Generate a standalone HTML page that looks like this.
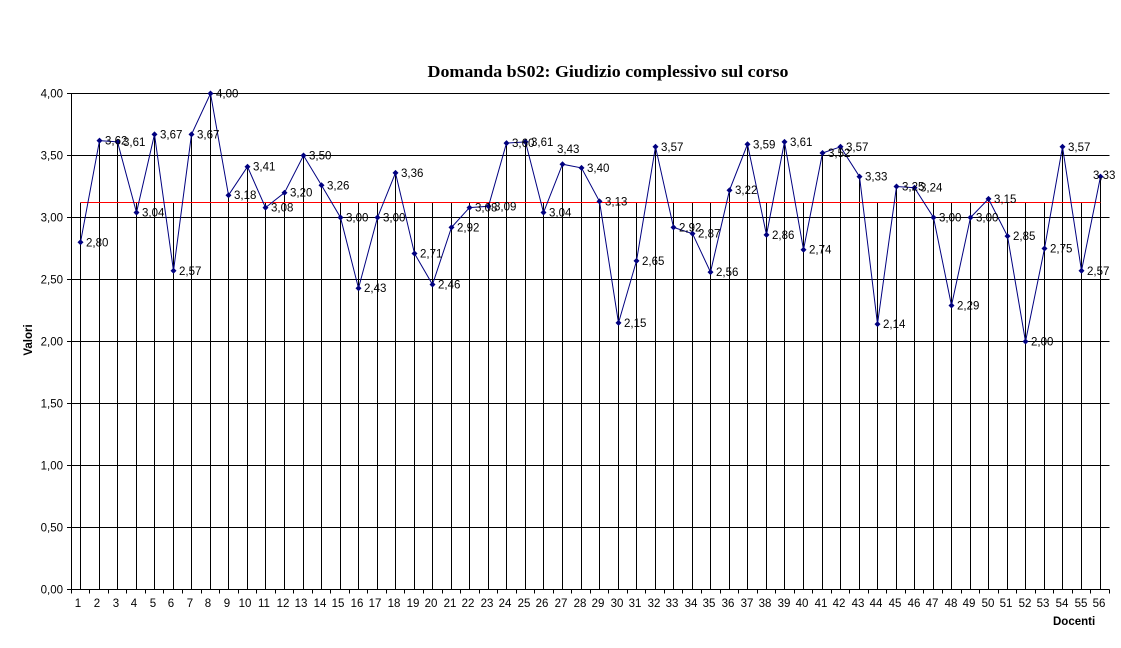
<!DOCTYPE html>
<html><head><meta charset="utf-8"><style>
html,body{margin:0;padding:0;background:#fff;}
svg{display:block;}
text{font-family:"Liberation Sans",Arial,sans-serif;font-size:11.5px;fill:#000;}
</style></head><body>
<svg width="1121" height="648" viewBox="0 0 1121 648" xmlns="http://www.w3.org/2000/svg">
<defs>
<marker id="d" viewBox="-4 -4 8 8" markerWidth="8" markerHeight="8" refX="0" refY="0" markerUnits="userSpaceOnUse">
<path d="M0,-3 L3,0 L0,3 L-3,0 Z" fill="#000080"/>
</marker>
</defs>
<rect width="1121" height="648" fill="#fff"/>
<text x="608" y="77" text-anchor="middle" textLength="361" lengthAdjust="spacingAndGlyphs" style="font-family:'Liberation Serif','Times New Roman',serif;font-size:17px;font-weight:bold;">Domanda bS02: Giudizio complessivo sul corso</text>
<!-- horizontal gridlines -->
<g stroke="#000" stroke-width="1" fill="none" shape-rendering="crispEdges">
<path d="M67 93.5H1109.5M67 155.5H1109.5M67 217.5H1109.5M67 279.5H1109.5M67 341.5H1109.5M67 403.5H1109.5M67 465.5H1109.5M67 527.5H1109.5M67 589.5H1109.5"/>
<path d="M71.5 93.5V589.5"/>
<!-- x ticks -->
<path d="M71.5 589.5v4M89.5 589.5v4M108.5 589.5v4M126.5 589.5v4M145.5 589.5v4M163.5 589.5v4M182.5 589.5v4M201.5 589.5v4M219.5 589.5v4M238.5 589.5v4M256.5 589.5v4M275.5 589.5v4M293.5 589.5v4M312.5 589.5v4M330.5 589.5v4M349.5 589.5v4M367.5 589.5v4M386.5 589.5v4M404.5 589.5v4M423.5 589.5v4M442.5 589.5v4M460.5 589.5v4M479.5 589.5v4M497.5 589.5v4M516.5 589.5v4M534.5 589.5v4M553.5 589.5v4M571.5 589.5v4M590.5 589.5v4M608.5 589.5v4M627.5 589.5v4M645.5 589.5v4M664.5 589.5v4M682.5 589.5v4M701.5 589.5v4M720.5 589.5v4M738.5 589.5v4M757.5 589.5v4M775.5 589.5v4M794.5 589.5v4M812.5 589.5v4M831.5 589.5v4M849.5 589.5v4M868.5 589.5v4M886.5 589.5v4M905.5 589.5v4M923.5 589.5v4M942.5 589.5v4M961.5 589.5v4M979.5 589.5v4M998.5 589.5v4M1016.5 589.5v4M1035.5 589.5v4M1053.5 589.5v4M1072.5 589.5v4M1090.5 589.5v4M1109.5 589.5v4"/>
<!-- drop lines -->
<path d="M80.5 202.5V589.5M99.5 140.6V589.5M117.5 141.9V589.5M136.5 202.5V589.5M154.5 134.4V589.5M173.5 202.5V589.5M191.5 134.4V589.5M210.5 93.5V589.5M228.5 195.2V589.5M247.5 166.7V589.5M265.5 202.5V589.5M284.5 192.7V589.5M303.5 155.5V589.5M321.5 185.3V589.5M340.5 202.5V589.5M358.5 202.5V589.5M377.5 202.5V589.5M395.5 172.9V589.5M414.5 202.5V589.5M432.5 202.5V589.5M451.5 202.5V589.5M469.5 202.5V589.5M488.5 202.5V589.5M506.5 143.1V589.5M525.5 141.9V589.5M543.5 202.5V589.5M562.5 164.2V589.5M581.5 167.9V589.5M599.5 201.4V589.5M618.5 202.5V589.5M636.5 202.5V589.5M655.5 146.8V589.5M673.5 202.5V589.5M692.5 202.5V589.5M710.5 202.5V589.5M729.5 190.2V589.5M747.5 144.3V589.5M766.5 202.5V589.5M784.5 141.9V589.5M803.5 202.5V589.5M822.5 153.0V589.5M840.5 146.8V589.5M859.5 176.6V589.5M877.5 202.5V589.5M896.5 186.5V589.5M914.5 187.7V589.5M933.5 202.5V589.5M951.5 202.5V589.5M970.5 202.5V589.5M988.5 198.9V589.5M1007.5 202.5V589.5M1025.5 202.5V589.5M1044.5 202.5V589.5M1062.5 146.8V589.5M1081.5 202.5V589.5M1100.5 176.6V589.5"/>
</g>
<!-- average line -->
<path d="M80.5 202.5H1100.5" stroke="#ff0000" stroke-width="1" shape-rendering="crispEdges"/>
<!-- series -->
<polyline fill="none" stroke="#000080" stroke-width="1" marker-start="url(#d)" marker-mid="url(#d)" marker-end="url(#d)" points="80.5,242.3 99.5,140.6 117.5,141.9 136.5,212.5 154.5,134.4 173.5,270.8 191.5,134.4 210.5,93.5 228.5,195.2 247.5,166.7 265.5,207.6 284.5,192.7 303.5,155.5 321.5,185.3 340.5,217.5 358.5,288.2 377.5,217.5 395.5,172.9 414.5,253.5 432.5,284.5 451.5,227.4 469.5,207.6 488.5,206.3 506.5,143.1 525.5,141.9 543.5,212.5 562.5,164.2 581.5,167.9 599.5,201.4 618.5,322.9 636.5,260.9 655.5,146.8 673.5,227.4 692.5,233.6 710.5,272.1 729.5,190.2 747.5,144.3 766.5,234.9 784.5,141.9 803.5,249.7 822.5,153.0 840.5,146.8 859.5,176.6 877.5,324.1 896.5,186.5 914.5,187.7 933.5,217.5 951.5,305.5 970.5,217.5 988.5,198.9 1007.5,236.1 1025.5,341.5 1044.5,248.5 1062.5,146.8 1081.5,270.8 1100.5,176.6"/>
<!-- data labels -->
<g>
<text x="86" y="246.3">2,80</text>
<text x="105" y="144.6">3,62</text>
<text x="123" y="145.9">3,61</text>
<text x="142" y="216.5">3,04</text>
<text x="160" y="138.4">3,67</text>
<text x="179" y="274.8">2,57</text>
<text x="197" y="138.4">3,67</text>
<text x="216" y="97.5">4,00</text>
<text x="234" y="199.2">3,18</text>
<text x="253" y="170.7">3,41</text>
<text x="271" y="211.6">3,08</text>
<text x="290" y="196.7">3,20</text>
<text x="309" y="159.5">3,50</text>
<text x="327" y="189.3">3,26</text>
<text x="346" y="221.5">3,00</text>
<text x="364" y="292.2">2,43</text>
<text x="383" y="221.5">3,00</text>
<text x="401" y="176.9">3,36</text>
<text x="420" y="257.5">2,71</text>
<text x="438" y="288.5">2,46</text>
<text x="457" y="231.4">2,92</text>
<text x="475" y="211.6">3,08</text>
<text x="494" y="210.3">3,09</text>
<text x="512" y="147.1">3,60</text>
<text x="531" y="145.9">3,61</text>
<text x="549" y="216.5">3,04</text>
<text x="557" y="153">3,43</text>
<text x="587" y="171.9">3,40</text>
<text x="605" y="205.4">3,13</text>
<text x="624" y="326.9">2,15</text>
<text x="642" y="264.9">2,65</text>
<text x="661" y="150.8">3,57</text>
<text x="679" y="231.4">2,92</text>
<text x="698" y="237.6">2,87</text>
<text x="716" y="276.1">2,56</text>
<text x="735" y="194.2">3,22</text>
<text x="753" y="148.3">3,59</text>
<text x="772" y="238.9">2,86</text>
<text x="790" y="145.9">3,61</text>
<text x="809" y="253.7">2,74</text>
<text x="828" y="157.0">3,52</text>
<text x="846" y="150.8">3,57</text>
<text x="865" y="180.6">3,33</text>
<text x="883" y="328.1">2,14</text>
<text x="902" y="190.5">3,25</text>
<text x="920" y="191.7">3,24</text>
<text x="939" y="221.5">3,00</text>
<text x="957" y="309.5">2,29</text>
<text x="976" y="221.5">3,00</text>
<text x="994" y="202.9">3,15</text>
<text x="1013" y="240.1">2,85</text>
<text x="1031" y="345.5">2,00</text>
<text x="1050" y="252.5">2,75</text>
<text x="1068" y="150.8">3,57</text>
<text x="1087" y="274.8">2,57</text>
<text x="1093" y="179">3,33</text>
</g>
<!-- y axis labels -->
<g text-anchor="end">
<text x="63" y="97.5">4,00</text>
<text x="63" y="159.5">3,50</text>
<text x="63" y="221.5">3,00</text>
<text x="63" y="283.5">2,50</text>
<text x="63" y="345.5">2,00</text>
<text x="63" y="407.5">1,50</text>
<text x="63" y="469.5">1,00</text>
<text x="63" y="531.5">0,50</text>
<text x="63" y="593.5">0,00</text>
</g>
<!-- x axis labels -->
<g text-anchor="middle">
<text x="78" y="607">1</text><text x="97" y="607">2</text><text x="116" y="607">3</text><text x="134" y="607">4</text><text x="153" y="607">5</text><text x="171" y="607">6</text><text x="190" y="607">7</text><text x="208" y="607">8</text><text x="227" y="607">9</text><text x="245" y="607">10</text><text x="264" y="607">11</text><text x="283" y="607">12</text><text x="301" y="607">13</text><text x="320" y="607">14</text><text x="338" y="607">15</text><text x="357" y="607">16</text><text x="375" y="607">17</text><text x="394" y="607">18</text><text x="413" y="607">19</text><text x="431" y="607">20</text><text x="450" y="607">21</text><text x="468" y="607">22</text><text x="487" y="607">23</text><text x="505" y="607">24</text><text x="524" y="607">25</text><text x="542" y="607">26</text><text x="561" y="607">27</text><text x="580" y="607">28</text><text x="598" y="607">29</text><text x="617" y="607">30</text><text x="635" y="607">31</text><text x="654" y="607">32</text><text x="672" y="607">33</text><text x="691" y="607">34</text><text x="709" y="607">35</text><text x="728" y="607">36</text><text x="747" y="607">37</text><text x="765" y="607">38</text><text x="784" y="607">39</text><text x="802" y="607">40</text><text x="821" y="607">41</text><text x="839" y="607">42</text><text x="858" y="607">43</text><text x="876" y="607">44</text><text x="895" y="607">45</text><text x="914" y="607">46</text><text x="932" y="607">47</text><text x="951" y="607">48</text><text x="969" y="607">49</text><text x="988" y="607">50</text><text x="1006" y="607">51</text><text x="1025" y="607">52</text><text x="1043" y="607">53</text><text x="1062" y="607">54</text><text x="1081" y="607">55</text><text x="1099" y="607">56</text>
</g>
<text x="1053" y="625" style="font-weight:bold;">Docenti</text>
<text transform="translate(32,340) rotate(-90)" text-anchor="middle" style="font-weight:bold;">Valori</text>
</svg>
</body></html>
